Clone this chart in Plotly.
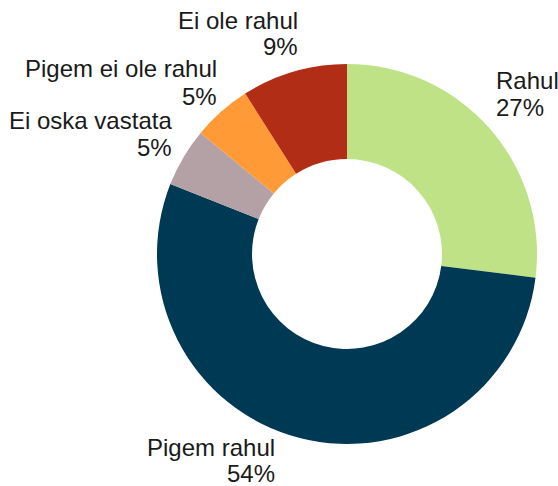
import plotly.graph_objects as go

categories = ["Rahul", "Pigem rahul", "Ei oska vastata", "Pigem ei ole rahul", "Ei ole rahul"]
values = [27, 54, 5, 5, 9]
colors = ["#BEE285", "#003953", "#B3A1A6", "#FF9A36", "#B22D15"]

W, H = 558, 486
# label placement (pixels): anchor x, name line center y, pct line center y, x-anchor
label_pos = {
    "Rahul": (494, 80, 107, "left"),
    "Pigem rahul": (277, 447, 473, "right"),
    "Ei oska vastata": (174, 120, 147, "right"),
    "Pigem ei ole rahul": (219, 69, 96, "right"),
    "Ei ole rahul": (300, 20, 47, "right"),
}

cx, cy, r = 347, 254, 190

fig = go.Figure(go.Pie(
    labels=categories,
    values=values,
    marker=dict(colors=colors, line=dict(width=0)),
    hole=0.5,
    sort=False,
    direction="clockwise",
    rotation=0,
    textinfo="none",
    hoverinfo="label+percent",
    showlegend=False,
    domain=dict(x=[(cx - r) / W, (cx + r) / W], y=[(H - cy - r) / H, (H - cy + r) / H]),
))

font = dict(family="Liberation Sans, Arial, sans-serif", size=24, color="#1a1a1a")
anns = []
for cat, v in zip(categories, values):
    x, y1, y2, anc = label_pos[cat]
    for txt, yy in ((cat, y1), (f"{v}%", y2)):
        anns.append(dict(
            text=txt, x=x / W, y=(H - yy) / H, xref="paper", yref="paper",
            xanchor=anc, yanchor="middle", showarrow=False, font=font,
            align=anc,
        ))

fig.update_layout(
    width=W, height=H,
    margin=dict(l=0, r=0, t=0, b=0),
    paper_bgcolor="white", plot_bgcolor="white",
    annotations=anns,
)
fig.write_html("out.html")
